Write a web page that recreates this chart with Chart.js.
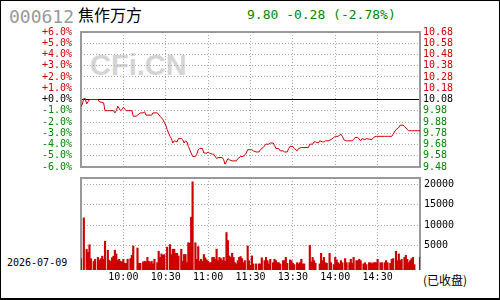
<!DOCTYPE html>
<html>
<head>
<meta charset="utf-8">
<script src="https://cdn.jsdelivr.net/npm/chart.js@4.4.0/dist/chart.umd.min.js"></script>
<style>
html, body { margin: 0; padding: 0; background: #fff; }
#wrap { position: relative; width: 500px; height: 300px; overflow: hidden; }
#wrap canvas { position: absolute; left: 0; }
.txt { position: absolute; white-space: nowrap; }
#code { left: 9px; top: 8px; font: 18px/18px "DejaVu Sans Mono"; color: #999; }
#name { left: 78px; top: 6px; font: 16px/16px "Noto Sans CJK SC"; color: #000; }
#quote { left: 247px; top: 8px; font: 13px/13px "DejaVu Sans Mono"; color: #008800; }
#mark { left: 90px; top: 50px; font: bold 29px/30px "Liberation Sans"; color: #d4d4d4; }
#date { left: 7px; top: 258px; font: 10px/10px "DejaVu Sans Mono"; color: #000; }
#status { left: 423px; top: 274px; font: 12px/12px "Noto Sans CJK SC"; color: #000; }
#border { position: absolute; left: 0; top: 0; width: 500px; height: 300px; box-sizing: border-box; border: 1px solid #000; border-bottom-width: 2px; }
</style>
</head>
<body>
<div id="wrap">
    <div class="txt" id="mark">CFi.CN</div>
    <div class="txt" id="code">000612</div>
    <div class="txt" id="name">焦作万方</div>
    <div class="txt" id="quote">9.80 -0.28 (-2.78%)</div>
    <div class="txt" id="date">2026-07-09</div>
    <div class="txt" id="status">(已收盘)</div>
    <canvas id="priceChart" width="500" height="182" style="top:0"></canvas>
    <canvas id="volChart" width="500" height="132" style="top:168px"></canvas>
    <div id="border"></div>
</div>
<script>
// previous close and axis steps
const basePrice = 10.08;
const pctTicks = [-6, -5, -4, -3, -2, -1, 0, 1, 2, 3, 4, 5, 6];
const pctLabels = ["-6.0%", "-5.0%", "-4.0%", "-3.0%", "-2.0%", "-1.0%", "+0.0%", "+1.0%", "+2.0%", "+3.0%", "+4.0%", "+5.0%", "+6.0%"];
const priceLabels = ["9.48", "9.58", "9.68", "9.78", "9.88", "9.98", "10.08", "10.18", "10.28", "10.38", "10.48", "10.58", "10.68"];

// minutes since 9:30 (120 = 11:30 / 13:00, 240 = 15:00)
const timeTicks = [30, 60, 90, 120, 150, 180, 210];
const timeLabels = ["10:00", "10:30", "11:00", "11:30", "13:30", "14:00", "14:30"];

const priceMinutes = [0, 1, 2, 3, 4, 5, 6, 8, 12, 13, 16, 17, 19, 23, 24, 25, 26, 28, 29, 30,
    32, 36, 37, 39, 40, 42, 44, 45, 46, 50, 51, 54, 56, 58, 60, 61, 63, 64, 65, 66,
    68, 69, 71, 72, 73, 74, 75, 76, 78, 79, 81, 82, 83, 84, 86, 87, 89, 90, 91, 93,
    94, 96, 97, 100, 101, 102, 104, 105, 107, 110, 111, 113, 115, 117, 118, 120,
    121, 122, 124, 126, 127, 129, 131, 133, 134, 136, 137, 138, 140, 141, 143, 144, 146, 147, 148, 150,
    151, 153, 154, 156, 161, 162, 164, 165, 166, 168, 169, 171, 172, 173, 175, 177, 179, 180, 182, 184,
    185, 186, 188, 192, 193, 194, 196, 198, 199, 201, 202, 206, 207, 209, 215, 217, 218, 220, 221, 223,
    225, 226, 228, 229, 231, 232, 234, 236, 238, 240];
const prices = [10.02, 10.04, 10.09, 10.09, 10.04, 10.06, 10.08, 10.08, 10.08, 10.06, 10.05, 9.98, 9.98, 9.98, 9.96, 9.98, 10.02, 9.98, 9.99, 10.01,
    9.98, 9.98, 9.93, 9.93, 9.94, 9.96, 9.96, 9.97, 9.94, 9.94, 9.96, 9.96, 9.93, 9.90, 9.85, 9.81, 9.75, 9.73, 9.69, 9.71,
    9.70, 9.73, 9.73, 9.72, 9.69, 9.71, 9.70, 9.66, 9.60, 9.57, 9.57, 9.59, 9.63, 9.64, 9.64, 9.60, 9.60, 9.61, 9.60, 9.59,
    9.59, 9.55, 9.56, 9.56, 9.54, 9.50, 9.55, 9.54, 9.53, 9.53, 9.55, 9.57, 9.57, 9.60, 9.63, 9.63,
    9.63, 9.62, 9.61, 9.61, 9.63, 9.65, 9.68, 9.68, 9.69, 9.69, 9.67, 9.64, 9.64, 9.62, 9.62, 9.61, 9.61, 9.64, 9.66, 9.66,
    9.64, 9.62, 9.64, 9.65, 9.65, 9.68, 9.68, 9.70, 9.70, 9.69, 9.71, 9.70, 9.70, 9.71, 9.71, 9.72, 9.74, 9.75, 9.75, 9.77,
    9.75, 9.72, 9.71, 9.71, 9.72, 9.74, 9.74, 9.71, 9.73, 9.72, 9.73, 9.72, 9.74, 9.75, 9.75, 9.75, 9.75, 9.75, 9.77, 9.81,
    9.83, 9.85, 9.85, 9.84, 9.81, 9.80, 9.80, 9.80, 9.80, 9.80];

const volMinutes = [0, 2, 4, 5, 6, 7, 9, 10, 12, 13, 14, 15, 16, 17, 19, 20, 21, 22, 23, 24, 25, 26, 27, 28, 29, 30,
    31, 32, 33, 35, 36, 37, 40, 41, 42, 44, 45, 46, 47, 48, 49, 50, 51, 52, 54, 55, 56, 57, 58,
    59, 61, 63, 64, 65, 66, 67, 68, 69, 71, 72, 73, 74, 75, 76, 77, 78, 79, 81, 82, 83, 84, 85, 86, 87, 88, 89, 90,
    91, 92, 93, 94, 95, 96, 97, 98, 99, 100, 101, 102, 103, 104, 105, 106, 107, 108, 109, 110, 111, 112, 113, 114,
    115, 116, 118, 119, 120,
    121, 122, 124, 126, 127, 128, 130, 131, 132, 133, 134, 136, 137, 138, 139, 140, 141, 143, 144, 145, 146, 148,
    149, 150, 151, 153, 154, 155, 156, 157, 158, 162, 163, 164, 165, 166, 169, 170, 171, 172, 173, 174, 176, 177,
    179, 180, 181, 182, 183, 184, 185, 187, 188, 190, 191, 192, 193, 195, 196, 197, 198, 200, 201, 202, 204, 205,
    206, 207, 208, 209, 210, 212, 213, 215, 216, 217, 219, 220, 221, 223, 224, 225, 226, 227, 229, 230, 231, 232,
    233, 234, 235, 236, 240];
const volumes = [1800, 11800, 4100, 3300, 5200, 1800, 1150, 1640, 2100, 1400, 1800, 2400, 1640, 6070, 3850, 1400, 1150, 2000, 2400, 3850, 2950, 1400, 1640, 1150, 1000, 1640,
    650, 650, 1640, 1800, 2600, 4900, 4400, 650, 650, 1000, 1150, 1000, 2100, 1150, 800, 1150, 500, 1640, 800, 3600, 2100, 2950, 2600,
    2800, 4600, 5250, 2800, 4100, 4100, 3100, 3100, 2460, 4100, 1150, 2800, 2800, 800, 5700, 5570, 11970, 20650, 5700, 1640, 4750, 1150, 1640, 1150, 2800, 2000, 1480, 1150,
    800, 800, 2100, 2100, 1640, 4100, 1300, 2100, 1800, 1300, 2100, 1150, 8200, 6230, 2460, 2100, 3100, 2100, 800, 500, 1300, 2100, 2300, 1800,
    800, 1300, 4900, 1300, 150,
    2460, 500, 500, 500, 500, 2000, 1300, 2100, 1300, 500, 1640, 800, 1640, 1300, 800, 800, 500, 1300, 1300, 2100, 650, 1480,
    1300, 650, 330, 800, 500, 800, 1640, 500, 500, 5080, 1000, 2100, 1300, 650, 500, 3100, 1300, 2100, 800, 650, 3100, 800,
    330, 2100, 1480, 800, 500, 1300, 800, 1800, 800, 800, 1640, 650, 2100, 1300, 1300, 1640, 1300, 500, 800, 330, 800, 800,
    500, 800, 800, 800, 1640, 800, 800, 800, 1300, 800, 650, 1640, 1800, 3600, 1300, 2950, 1300, 1640, 2100, 2600, 1640, 800,
    1300, 1800, 2100, 330, 2100];
const volTicks = [5000, 10000, 15000, 20000];
const volMin = -1000;
const volMax = 21600;

const red = "#cc0000";
const green = "#008800";
const gridGrey = "#a8a8a8";

Chart.defaults.font.family = "DejaVu Sans Mono";
Chart.defaults.font.size = 10;

// grey box round the plot, plus the black line at the previous close
const framePlugin = {
    id: "frame",
    beforeDatasetsDraw(chart, args, opts) {
        const a = chart.chartArea;
        const ctx = chart.ctx;
        ctx.save();
        if (opts.zero) {
            const y = Math.round(chart.scales.y.getPixelForValue(basePrice)) - 0.5;
            ctx.strokeStyle = "#000";
            ctx.lineWidth = 1;
            ctx.beginPath();
            ctx.moveTo(a.left, y);
            ctx.lineTo(a.right, y);
            ctx.stroke();
        }
        ctx.strokeStyle = "#999";
        ctx.lineWidth = 2;
        ctx.beginPath();
        if (opts.bottom) {
            ctx.rect(a.left, a.top, a.right - a.left, a.bottom - a.top);
        } else {
            ctx.moveTo(a.left, a.bottom);
            ctx.lineTo(a.left, a.top);
            ctx.lineTo(a.right, a.top);
            ctx.lineTo(a.right, a.bottom);
        }
        ctx.stroke();
        ctx.restore();
    }
};

function setTicks(values) {
    return function (scale) {
        scale.ticks = values.map(v => ({ value: v }));
    };
}

const priceTickValues = pctTicks.map(k => basePrice * (1 + k / 100));
const labelColor = (c) => pctTicks[c.index] > 0 ? red : (pctTicks[c.index] < 0 ? green : "#000");

new Chart(document.getElementById("priceChart"), {
    type: "line",
    data: {
        datasets: [{
            data: prices.map((p, i) => ({ x: priceMinutes[i], y: p })),
            borderColor: red,
            borderWidth: 1,
            pointRadius: 0,
            tension: 0,
        }],
    },
    options: {
        responsive: false,
        animation: false,
        events: [],
        layout: { padding: { top: 32, bottom: 8, left: 0, right: 0 } },
        plugins: {
            legend: { display: false },
            tooltip: { enabled: false },
            frame: { zero: true, bottom: true },
        },
        scales: {
            x: {
                type: "linear",
                min: 0,
                max: 240,
                afterBuildTicks: setTicks(timeTicks),
                ticks: { display: false },
                grid: { color: gridGrey, drawTicks: false },
                border: { display: false, dash: [1, 2] },
                afterFit: (s) => { s.height = 0; },
            },
            y: {
                position: "left",
                min: priceTickValues[0],
                max: priceTickValues[priceTickValues.length - 1],
                afterBuildTicks: setTicks(priceTickValues),
                ticks: {
                    autoSkip: false,
                    padding: 9,
                    color: labelColor,
                    callback: (v, i) => pctLabels[i],
                },
                grid: { color: gridGrey, drawTicks: false },
                border: { display: false, dash: [1, 2] },
                afterFit: (s) => { s.width = 81; },
            },
            y2: {
                position: "right",
                min: priceTickValues[0],
                max: priceTickValues[priceTickValues.length - 1],
                afterBuildTicks: setTicks(priceTickValues),
                ticks: {
                    autoSkip: false,
                    padding: 3,
                    color: labelColor,
                    callback: (v, i) => priceLabels[i],
                },
                grid: { display: false, drawTicks: false },
                border: { display: false },
                afterFit: (s) => { s.width = 80; },
            },
        },
    },
    plugins: [framePlugin],
});

new Chart(document.getElementById("volChart"), {
    type: "bar",
    data: {
        datasets: [{
            data: volumes.map((v, i) => ({ x: volMinutes[i], y: v })),
            backgroundColor: red,
            barThickness: 1.5,
            base: volMin,
        }],
    },
    options: {
        responsive: false,
        animation: false,
        events: [],
        layout: { padding: { top: 2, left: 81, right: 0, bottom: 0 } },
        plugins: {
            legend: { display: false },
            tooltip: { enabled: false },
            frame: { zero: false, bottom: false },
        },
        scales: {
            x: {
                type: "linear",
                min: 0,
                max: 240,
                offset: false,
                afterBuildTicks: setTicks(timeTicks),
                ticks: {
                    autoSkip: false,
                    maxRotation: 0,
                    padding: 1,
                    color: "#000",
                    callback: (v, i) => timeLabels[i],
                },
                grid: { color: gridGrey, drawTicks: false, offset: false },
                border: { display: false, dash: [1, 2] },
                afterFit: (s) => { s.height = 30; },
            },
            y: {
                position: "right",
                min: volMin,
                max: volMax,
                afterBuildTicks: setTicks(volTicks),
                ticks: {
                    autoSkip: false,
                    padding: 4,
                    color: "#000",
                    callback: (v) => String(v),
                },
                grid: { color: gridGrey, drawTicks: false },
                border: { display: false, dash: [1, 2] },
                afterFit: (s) => { s.width = 80; },
            },
        },
    },
    plugins: [framePlugin],
});
</script>
</body>
</html>
